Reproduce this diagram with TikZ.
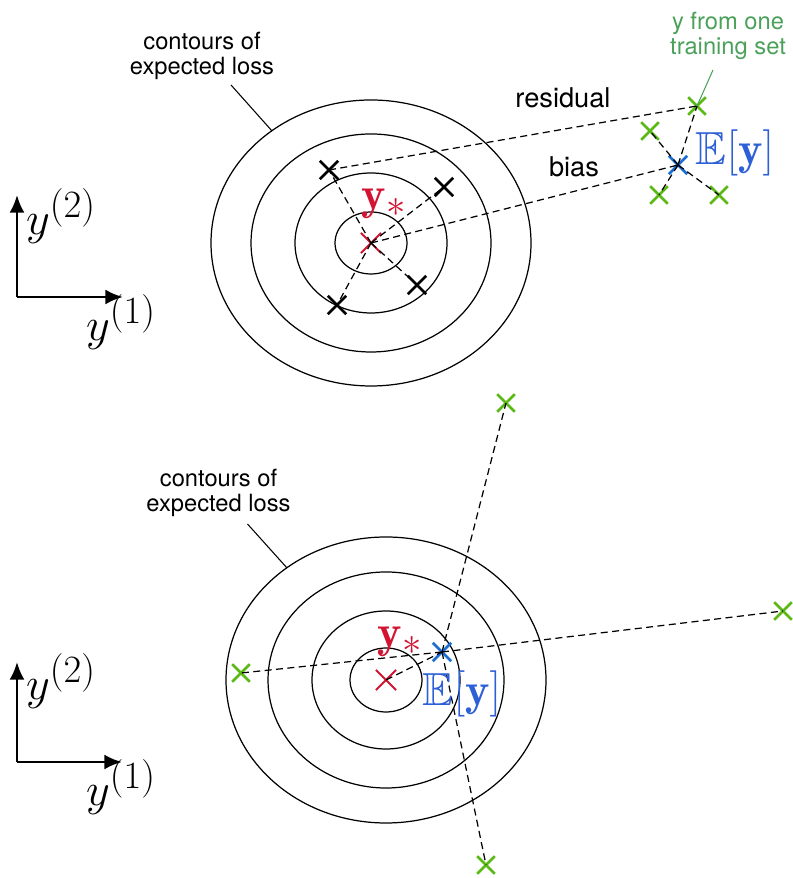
\documentclass[tikz,border=0pt]{standalone}
\usepackage{amsmath}
\usepackage{amssymb}
\usepackage{fontspec}
\newfontfamily\helv{TeX Gyre Heros}
\usepackage{xcolor}
\usepackage{tikz}
\usetikzlibrary{shapes.misc, arrows.meta, positioning}
\definecolor{starred}{RGB}{210,20,50}
\definecolor{meanblue}{RGB}{25,110,210}
\definecolor{labelblue}{RGB}{45,95,215}
\definecolor{samplegreen}{RGB}{90,185,20}
\definecolor{notegreen}{RGB}{75,160,90}

\begin{document}
\begin{tikzpicture}[
    x=0.02cm, y=0.02cm,
    xmark/.style={cross out, draw, inner sep=0pt, outer sep=0pt},
    blackx/.style={xmark, draw=black, line width=1.5pt, minimum size=10.5pt},
    redx/.style={xmark, draw=starred, line width=1.1pt, minimum size=11.5pt},
    greenx/.style={xmark, draw=samplegreen, line width=1.5pt, minimum size=10pt},
    bluex/.style={xmark, draw=meanblue, line width=1.5pt, minimum size=10.5pt},
    contour/.style={line width=0.7pt},
    link/.style={line width=0.7pt, dash pattern=on 4pt off 2.5pt},
    leader/.style={line width=0.6pt},
    note/.style={font=\helv\fontsize{13.5}{14.5}\selectfont, align=center},
    word/.style={font=\helv\fontsize{15.5}{18}\selectfont, inner sep=0pt, anchor=base},
    mathlabel/.style={font=\Huge, scale=1.06, inner sep=0pt},
    axis/.style={-{Latex[length=10pt,width=8.5pt]}, line width=1.5pt}
]
    \useasboundingbox (0,0) rectangle (793,878);

    % upper panel
    \node[redx] (topstar) at (371,635) {};
    \foreach \rx/\ry in {36/31, 76/70, 120/109, 160/143}
        \draw[contour] (topstar.center) ellipse [x radius=\rx, y radius=\ry];
    \node[blackx] (topa) at (329,708) {};
    \node[blackx] (topb) at (444,691) {};
    \node[blackx] (topc) at (417,593) {};
    \node[blackx] (topd) at (337,573) {};
    \node[bluex] (topmean) at (678,713) {};
    \node[greenx] (topga) at (697,772) {};
    \node[greenx] (topgb) at (650,747) {};
    \node[greenx] (topgc) at (659,683) {};
    \node[greenx] (topgd) at (719,683) {};

    \foreach \c in {topa, topb, topc, topd}
        \draw[link] (topstar.center) -- (\c.center);
    \foreach \c in {topga, topgb, topgc, topgd}
        \draw[link] (topmean.center) -- (\c.center);
    \draw[link] (topa.center) -- (topga.center);
    \draw[link] (topstar.center) -- (topmean.center);

    \node[word] (residual) at (563,770) {residual};
    \node[word] (bias) at (574,701) {bias};
    \node[mathlabel, text=starred] (topystar) at (384,674) {$\mathbf{y}_*$};
    \node[mathlabel, text=labelblue] (topymean) at (735,725) {$\mathbb{E}[\mathbf{y}]$};

    \node[note] (topnote) at (202,822) {contours of\\expected loss};
    \coordinate (topfoot) at (231,793);
    \coordinate (toptouch) at ([shift={(128.3:160 and 143)}]topstar.center);
    \draw[leader] (topfoot) -- (toptouch);

    \node[note, text=notegreen] (trainnote) at (728,842) {y from one\\training set};
    \coordinate (trainfoot) at (713,808);
    \draw[leader, notegreen] (trainfoot) -- (topga.center);

    \coordinate (topo) at (17,581);
    \coordinate (topup) at (17,683);
    \coordinate (topright) at (123,581);
    \draw[axis] (topo) -- (topup);
    \draw[axis] (topo) -- (topright);
    \node[mathlabel] (topytwo) at (61,662) {$y^{(2)}$};
    \node[mathlabel] (topyone) at (121,556) {$y^{(1)}$};

    % lower panel
    \node[redx] (lowstar) at (386,198) {};
    \foreach \rx/\ry in {36/32, 74/69, 118/108, 160/143}
        \draw[contour] (lowstar.center) ellipse [x radius=\rx, y radius=\ry];
    \node[bluex] (lowmean) at (442,226) {};
    \node[greenx] (lowga) at (506,475) {};
    \node[greenx] (lowgb) at (783,267) {};
    \node[greenx] (lowgc) at (241,205) {};
    \node[greenx] (lowgd) at (486,13) {};

    \foreach \c in {lowga, lowgb, lowgc, lowgd}
        \draw[link] (lowmean.center) -- (\c.center);
    \draw[link] (lowstar.center) -- (lowmean.center);

    \node[mathlabel, text=starred] (lowystar) at (400,236) {$\mathbf{y}_*$};
    \node[mathlabel, text=labelblue] (lowymean) at (462,184) {$\mathbb{E}[\mathbf{y}]$};

    \node[note] (lownote) at (218.5,385) {contours of\\expected loss};
    \coordinate (lowfoot) at (247.5,354);
    \coordinate (lowtouch) at ([shift={(128.3:160 and 143)}]lowstar.center);
    \draw[leader] (lowfoot) -- (lowtouch);

    \coordinate (lowo) at (17,116);
    \coordinate (lowup) at (17,216);
    \coordinate (lowright) at (122,116);
    \draw[axis] (lowo) -- (lowup);
    \draw[axis] (lowo) -- (lowright);
    \node[mathlabel] (lowytwo) at (61,197) {$y^{(2)}$};
    \node[mathlabel] (lowyone) at (121,91) {$y^{(1)}$};
\end{tikzpicture}
\end{document}
